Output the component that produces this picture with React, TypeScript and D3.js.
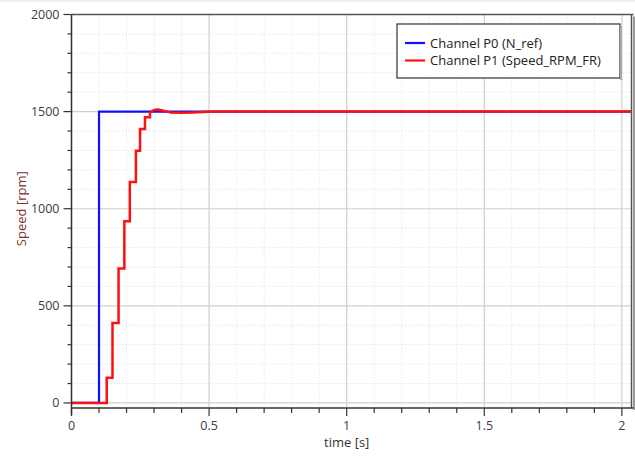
import * as d3 from 'd3';
import React from 'react';

// reference speed (step input)
const refTime = [0, 0.1, 2.035];
const refSpeed = [0, 1500, 1500];

// measured speed: staircase part, then the settling tail
const fbStepTime = [0, 0.128, 0.149, 0.171, 0.192, 0.212, 0.234, 0.249, 0.267, 0.285];
const fbStepSpeed = [0, 130, 412, 692, 936, 1137, 1299, 1411, 1471, 1497];
const fbTailTime = [0.285, 0.3, 0.315, 0.33, 0.36, 0.4, 0.44, 0.48, 0.52, 2.035];
const fbTailSpeed = [1497, 1508, 1511, 1506, 1496, 1494, 1495, 1498, 1500, 1500];

const xMajor = [0, 0.5, 1, 1.5, 2];
const yMajor = [0, 500, 1000, 1500, 2000];
const legendNames = ['Channel P0 (N_ref)', 'Channel P1 (Speed_RPM_FR)'];
const colors = ['#1010ff', '#ff1010'];

const W = 635, H = 457;
const m = { left: 71.5, right: 631.5, top: 14.5, bottom: 408 };
const font = '"Open Sans", "DejaVu Sans", sans-serif';

export default function App() {
    const x = d3.scaleLinear().domain([0, 2.035]).range([m.left, m.right]);
    const y = d3.scaleLinear().domain([-26, 2000]).range([m.bottom, m.top]);

    const xMinor = d3.range(0, 21).map(i => i / 10).filter(v => !xMajor.includes(v));
    const yMinor = d3.range(0, 21).map(i => i * 100).filter(v => !yMajor.includes(v));

    const stepLine = d3.line<number>()
        .x(d => x(d[0])).y(d => y(d[1]))
        .curve(d3.curveStepAfter);
    const line = d3.line<number>()
        .x(d => x(d[0])).y(d => y(d[1]));

    const refPts = refTime.map((t, i) => [t, refSpeed[i]]);
    const stepPts = fbStepTime.map((t, i) => [t, fbStepSpeed[i]]);
    const tailPts = fbTailTime.map((t, i) => [t, fbTailSpeed[i]]);

    return (
        <svg width={W} height={H} style={{ position: 'absolute', left: 0, top: 0 }} fontFamily={font}>
            <rect width={W} height={H} fill="#fff" />
            <line x1={0} x2={W} y1={1} y2={1} stroke="#e4e4e4" />

            {/* grid */}
            {xMinor.map(v => (
                <line key={'xm' + v} x1={x(v)} x2={x(v)} y1={m.top} y2={m.bottom}
                    stroke="#dedede" strokeDasharray="1,2" />
            ))}
            {yMinor.map(v => (
                <line key={'ym' + v} x1={m.left} x2={m.right} y1={y(v)} y2={y(v)}
                    stroke="#dedede" strokeDasharray="1,2" />
            ))}
            {xMajor.map(v => (
                <line key={'xM' + v} x1={x(v)} x2={x(v)} y1={m.top} y2={m.bottom} stroke="#cfcfcf" strokeWidth={1.2} />
            ))}
            {yMajor.map(v => (
                <line key={'yM' + v} x1={m.left} x2={m.right} y1={y(v)} y2={y(v)} stroke="#cfcfcf" strokeWidth={1.2} />
            ))}

            {/* series */}
            <path d={stepLine(refPts) || ''} fill="none" stroke={colors[0]} strokeWidth={2.2} />
            <path d={stepLine(stepPts) || ''} fill="none" stroke={colors[1]} strokeWidth={2.5} />
            <path d={line(tailPts) || ''} fill="none" stroke={colors[1]} strokeWidth={2.5} strokeLinejoin="round" />

            {/* frame */}
            <line x1={m.left} x2={m.right + 2} y1={m.top} y2={m.top} stroke="#555" strokeWidth={1.5} />
            <line x1={m.right} x2={m.right} y1={m.top} y2={m.bottom} stroke="#555" strokeWidth={1.5} />
            <line x1={m.right + 2.5} x2={m.right + 2.5} y1={m.top + 2} y2={m.bottom + 2} stroke="#999" strokeWidth={2} />
            <line x1={m.left} x2={m.right + 2} y1={m.bottom} y2={m.bottom} stroke="#333" strokeWidth={1.5} />
            <line x1={m.left} x2={m.left} y1={m.top} y2={m.bottom + 7} stroke="#333" strokeWidth={1.5} />

            {/* y axis */}
            {yMinor.map(v => (
                <line key={'ytm' + v} x1={m.left - 4} x2={m.left} y1={y(v)} y2={y(v)} stroke="#333" strokeWidth={1.2} />
            ))}
            {yMajor.map(v => (
                <g key={'ytM' + v}>
                    <line x1={m.left - 8} x2={m.left} y1={y(v)} y2={y(v)} stroke="#333" strokeWidth={1.2} />
                    <text x={m.left - 12} y={y(v)} dy="0.35em" textAnchor="end" fontSize={12.5} fill="#3a3a4a">{v}</text>
                </g>
            ))}
            <text transform={`translate(21, ${y(1000)}) rotate(-90)`} textAnchor="middle" dy="0.35em"
                fontSize={13} fill="#7a3328">Speed [rpm]</text>

            {/* x axis */}
            {xMinor.map(v => (
                <line key={'xtm' + v} x1={x(v)} x2={x(v)} y1={m.bottom} y2={m.bottom + 5} stroke="#333" strokeWidth={1.2} />
            ))}
            {xMajor.map(v => (
                <g key={'xtM' + v}>
                    <line x1={x(v)} x2={x(v)} y1={m.bottom} y2={m.bottom + 8} stroke="#333" strokeWidth={1.2} />
                    <text x={x(v)} y={m.bottom + 22} textAnchor="middle" fontSize={12.5} fill="#3a3a4a">{v}</text>
                </g>
            ))}
            <text x={x(1)} y={m.bottom + 39} textAnchor="middle" fontSize={13} fill="#333">time [s]</text>

            {/* legend */}
            <g transform="translate(397, 24)">
                <rect width={223} height={54} fill="#fff" stroke="#333" strokeWidth={1.2} />
                <line x1={224} x2={224} y1={2} y2={56} stroke="#aaa" strokeWidth={2} />
                {legendNames.map((name, i) => (
                    <g key={name} transform={`translate(8, ${19 + i * 17.5})`}>
                        <line x1={0} x2={20} y1={0} y2={0} stroke={colors[i]} strokeWidth={2.2} />
                        <text x={25} y={0} dy="0.35em" fontSize={13} fill="#222">{name}</text>
                    </g>
                ))}
            </g>
        </svg>
    );
}
